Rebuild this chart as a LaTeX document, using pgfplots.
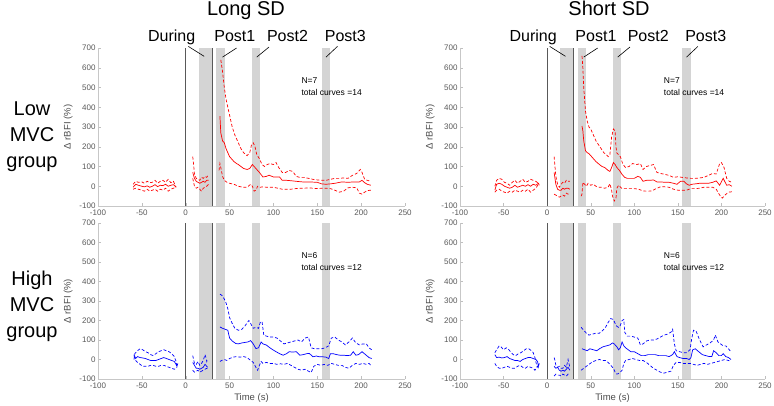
\documentclass[border=0pt]{standalone}
\usepackage{fontspec}
\setmainfont{Liberation Sans}
\usepackage{pgfplots}
\pgfplotsset{compat=1.18}

\pgfplotsset{
  panel/.style={
    scale only axis, clip=false,
    xmin=-100, xmax=250, ymin=-100, ymax=700,
    xtick={-100,-50,...,250}, ytick={-100,0,...,700},
    axis x line*=bottom, axis y line*=left,
    axis line style={-, black!22},
    tick style={black!25}, tick align=inside, major tick length=3pt,
    /pgf/number format/assume math mode=true,
    ticklabel style={font=\fontsize{8}{9}\selectfont, text=black!65},
    xticklabel style={yshift=-0.5pt},
    yticklabel style={xshift=1pt},
    ylabel={Δ rBFI (\%)},
    label style={font=\fontsize{9.5}{10}\selectfont, text=black!70},
    ylabel style={yshift=0pt},
  },
  mean/.style={line width=0.7pt},
  band/.style={line width=0.7pt, dash pattern=on 3pt off 2pt},
}

% grey periods and the two vertical markers
\newcommand{\phases}{
  \addplot[fill=black!17, draw=none] coordinates {(15,-100) (30,-100) (30,700) (15,700)} -- cycle;
  \addplot[fill=black!17, draw=none] coordinates {(35,-100) (45,-100) (45,700) (35,700)} -- cycle;
  \addplot[fill=black!17, draw=none] coordinates {(75,-100) (85,-100) (85,700) (75,700)} -- cycle;
  \addplot[fill=black!17, draw=none] coordinates {(155,-100) (165,-100) (165,700) (155,700)} -- cycle;
  \addplot[black!65, line width=0.6pt] coordinates {(0,-100) (0,700)};
  \addplot[black!65, line width=0.6pt] coordinates {(30,-100) (30,700)};
}
\newcommand{\phaselabels}{
  \node[anchor=base, font=\fontsize{16}{16}\selectfont] at (axis cs:-16,732) {During};
  \node[anchor=base, font=\fontsize{16}{16}\selectfont] at (axis cs:56,732) {Post1};
  \node[anchor=base, font=\fontsize{16}{16}\selectfont] at (axis cs:116,732) {Post2};
  \node[anchor=base, font=\fontsize{16}{16}\selectfont] at (axis cs:182,732) {Post3};
  \draw[line width=0.6pt] (axis cs:3,708) -- (axis cs:21,658);
  \draw[line width=0.6pt] (axis cs:58,700) -- (axis cs:42,654);
  \draw[line width=0.6pt] (axis cs:95,705) -- (axis cs:81,654);
  \draw[line width=0.6pt] (axis cs:173,708) -- (axis cs:160,654);
}

\begin{document}
\begin{tikzpicture}
\path[use as bounding box] (0,0) rectangle (774pt,405pt);

% titles and row labels
\node[anchor=base, font=\fontsize{20}{20}\selectfont] at (246pt,389pt) {Long SD};
\node[anchor=base, font=\fontsize{20}{20}\selectfont] at (609pt,389pt) {Short SD};
\node[align=center, font=\fontsize{20}{26}\selectfont] at (32pt,268pt) {Low\\MVC\\group};
\node[align=center, font=\fontsize{20}{26}\selectfont] at (32pt,99pt) {High\\MVC\\group};

%------------------ Long SD, Low MVC
\begin{axis}[panel, at={(98pt,199pt)}, anchor=south west, width=307pt, height=158pt]
\phases
\phaselabels
\node[anchor=west, font=\fontsize{8.5}{9}\selectfont] at (axis cs:128,533) {N=7};
\node[anchor=west, font=\fontsize{8.5}{9}\selectfont] at (axis cs:128,474) {total curves =14};
% pre
\addplot[red, mean] coordinates {(-60,-5)(-57,10)(-54,5)(-50,0)(-47,-3)(-44,2)(-41,-5)(-38,0)(-35,8)(-32,-2)(-29,5)(-26,3)(-23,10)(-20,0)(-17,5)(-14,8)(-11,-5)};
\addplot[red, band] coordinates {(-60,10)(-57,25)(-54,20)(-50,22)(-47,15)(-44,25)(-41,18)(-38,20)(-35,30)(-32,15)(-29,25)(-26,30)(-23,20)(-20,35)(-17,18)(-14,25)(-11,-5)};
\addplot[red, band] coordinates {(-60,-15)(-57,-10)(-54,-15)(-50,-20)(-47,-25)(-44,-15)(-41,-25)(-38,-20)(-35,-15)(-32,-25)(-29,-15)(-26,-20)(-23,-10)(-20,-25)(-17,-15)(-14,-10)(-11,-5)};
% during
\addplot[red, mean] coordinates {(8,70)(10,40)(12,25)(14,20)(16,15)(18,20)(20,25)(22,20)(24,30)(26,30)};
\addplot[red, band] coordinates {(8,150)(9,110)(10,60)(12,40)(14,35)(16,30)(18,45)(20,40)(22,50)(24,45)(26,60)};
\addplot[red, band] coordinates {(8,40)(10,0)(12,-10)(14,-5)(16,-15)(18,-25)(20,-10)(22,-5)(24,0)(26,10)};
% post
\addplot[red, mean] coordinates {(39,355)(40,270)(42,230)(44,220)(46,190)(48,170)(50,150)(52,140)(55,125)(58,115)(60,110)(63,100)(66,90)(70,85)(73,90)(76,110)(78,100)(81,85)(84,70)(88,47)(92,50)(95,56)(100,47)(107,47)(110,30)(115,30)(120,28)(126,25)(133,22)(140,22)(150,20)(155,12)(160,10)(165,12)(170,15)(178,22)(185,20)(192,22)(198,22)(201,30)(204,18)(207,10)(211,5)};
\addplot[red, band] coordinates {(40,640)(42,580)(44,500)(46,440)(48,400)(50,360)(53,300)(56,260)(60,220)(63,190)(66,170)(70,155)(73,170)(75,210)(77,220)(79,200)(81,160)(84,140)(87,110)(90,100)(93,110)(96,115)(100,110)(103,120)(106,95)(110,70)(114,70)(118,80)(122,75)(126,50)(130,45)(135,45)(140,40)(145,35)(150,32)(155,30)(160,30)(165,35)(170,40)(175,40)(180,42)(185,40)(190,55)(195,65)(199,85)(201,70)(204,35)(207,30)(211,25)};
\addplot[red, band] coordinates {(38,80)(39,115)(40,95)(42,50)(44,30)(47,20)(50,15)(55,10)(60,0)(65,-5)(70,-5)(74,10)(76,0)(78,-25)(80,-20)(82,0)(85,-5)(88,-3)(92,-5)(96,-5)(100,-5)(105,-10)(110,-15)(115,-15)(120,-15)(125,-12)(130,-10)(135,-10)(140,-8)(145,-10)(150,-12)(155,-10)(160,-10)(165,-12)(170,-20)(175,-30)(180,-25)(185,-8)(190,-5)(195,-8)(198,-35)(201,-40)(204,-30)(207,-22)(211,-20)};
\end{axis}

%------------------ Short SD, Low MVC
\begin{axis}[panel, at={(460pt,199pt)}, anchor=south west, width=305pt, height=158pt]
\phases
\phaselabels
\node[anchor=west, font=\fontsize{8.5}{9}\selectfont] at (axis cs:130,533) {N=7};
\node[anchor=west, font=\fontsize{8.5}{9}\selectfont] at (axis cs:130,474) {total curves =14};
\addplot[red, mean] coordinates {(-60,-20)(-58,10)(-55,15)(-52,10)(-49,0)(-46,-5)(-43,-10)(-40,-5)(-37,5)(-34,-5)(-31,0)(-28,5)(-25,0)(-22,8)(-19,0)(-16,10)(-13,5)(-10,15)(-9,5)};
\addplot[red, band] coordinates {(-60,0)(-58,30)(-55,40)(-52,35)(-49,20)(-46,15)(-43,5)(-40,20)(-37,30)(-34,15)(-31,25)(-28,35)(-25,20)(-22,25)(-19,35)(-16,30)(-13,25)(-10,15)};
\addplot[red, band] coordinates {(-60,-30)(-58,-20)(-55,-15)(-52,-25)(-49,-30)(-46,-35)(-43,-25)(-40,-30)(-37,-20)(-34,-25)(-31,-30)(-28,-20)(-25,-25)(-22,-15)(-19,-30)(-16,-20)(-13,-10)(-10,10)};
\addplot[red, mean] coordinates {(8,70)(10,10)(12,-15)(14,-20)(16,-20)(18,-10)(20,-15)(22,-10)(24,-10)(26,-15)};
\addplot[red, band] coordinates {(8,150)(9,100)(10,50)(12,10)(14,-5)(16,10)(18,20)(20,15)(22,30)(24,25)(26,25)};
\addplot[red, band] coordinates {(8,-40)(10,-45)(12,-50)(14,-55)(16,-50)(18,-45)(20,-50)(22,-35)(24,-40)(26,-35)};
\addplot[red, mean] coordinates {(40,305)(41,280)(42,230)(44,180)(46,170)(48,165)(50,155)(53,140)(56,125)(60,110)(63,100)(66,95)(70,80)(72,75)(74,95)(76,120)(78,110)(80,95)(83,80)(86,60)(89,45)(92,40)(96,40)(100,40)(104,50)(107,45)(110,25)(114,30)(118,30)(122,32)(126,22)(130,22)(135,20)(140,20)(145,15)(149,10)(153,25)(157,25)(160,12)(163,5)(166,10)(170,12)(175,15)(180,15)(185,15)(190,20)(194,27)(198,5)(202,40)(206,5)(209,8)(212,0)};
\addplot[red, band] coordinates {(40,660)(41,600)(42,500)(44,380)(46,330)(48,300)(50,290)(53,260)(56,230)(59,210)(62,190)(65,170)(68,160)(70,150)(72,160)(74,250)(76,290)(78,280)(79,200)(80,168)(84,150)(87,110)(90,95)(94,100)(98,115)(103,110)(107,115)(110,85)(114,100)(118,105)(122,110)(126,70)(130,65)(135,60)(140,55)(145,45)(150,48)(155,45)(160,42)(165,40)(170,40)(175,42)(180,45)(185,55)(190,65)(194,62)(198,115)(200,120)(203,95)(206,40)(209,25)(212,20)};
\addplot[red, band] coordinates {(39,-50)(40,-40)(41,20)(43,10)(45,0)(47,15)(50,5)(53,10)(56,0)(60,-5)(63,-5)(66,-10)(70,-5)(72,13)(74,-20)(75,-50)(77,-75)(79,-60)(80,-10)(82,5)(86,-12)(90,-12)(95,-12)(100,-12)(105,-15)(110,-24)(115,-25)(120,-24)(125,-12)(130,-3)(135,-3)(140,-5)(145,-15)(150,-20)(155,-20)(160,-20)(165,-12)(170,-12)(175,-10)(180,-5)(185,-5)(190,-5)(194,-15)(198,-45)(201,-60)(204,-45)(208,-30)(212,-28)};
\end{axis}

%------------------ Long SD, High MVC
\begin{axis}[panel, at={(98pt,26pt)}, anchor=south west, width=307pt, height=156pt, xlabel={Time (s)}, xlabel style={yshift=2pt}]
\phases
\node[anchor=west, font=\fontsize{8.5}{9}\selectfont] at (axis cs:128,533) {N=6};
\node[anchor=west, font=\fontsize{8.5}{9}\selectfont] at (axis cs:128,474) {total curves =12};
\addplot[blue, mean] coordinates {(-59,25)(-57,5)(-55,15)(-52,10)(-49,8)(-46,5)(-43,0)(-40,-5)(-37,-5)(-34,-5)(-31,0)(-28,5)(-25,10)(-22,5)(-19,0)(-16,-5)(-13,-10)(-11,-25)(-10,-35)(-9,-20)};
\addplot[blue, band] coordinates {(-59,0)(-58,30)(-55,45)(-52,55)(-49,50)(-46,40)(-43,35)(-40,25)(-37,20)(-34,30)(-31,40)(-28,45)(-25,50)(-22,45)(-19,40)(-16,30)(-13,15)(-11,-10)(-10,-40)};
\addplot[blue, band] coordinates {(-59,20)(-57,-5)(-55,-15)(-52,-25)(-49,-35)(-46,-35)(-43,-35)(-40,-30)(-37,-30)(-34,-35)(-31,-35)(-28,-30)(-25,-30)(-22,-35)(-19,-40)(-16,-45)(-13,-50)(-11,-45)(-10,-40)};
\addplot[blue, mean] coordinates {(8,-15)(10,-30)(12,-45)(14,-45)(16,-50)(18,-45)(20,-40)(22,-25)(24,-35)(25,-40)};
\addplot[blue, band] coordinates {(8,20)(9,0)(10,-20)(12,-25)(14,-10)(16,-30)(18,-20)(20,-5)(22,25)(23,10)(24,-10)(25,5)};
\addplot[blue, band] coordinates {(8,-55)(10,-65)(12,-60)(14,-55)(16,-65)(18,-60)(20,-55)(22,-50)(24,-45)(25,-50)};
\addplot[blue, mean] coordinates {(39,167)(42,160)(45,155)(48,150)(50,110)(53,95)(57,82)(60,80)(64,85)(68,88)(71,90)(74,97)(77,80)(80,56)(83,60)(86,90)(88,80)(92,74)(96,60)(100,48)(103,40)(107,30)(111,22)(115,30)(118,40)(122,38)(126,40)(130,22)(134,25)(138,30)(141,31)(145,14)(149,18)(152,14)(156,14)(160,12)(163,5)(165,30)(168,30)(172,25)(176,22)(180,22)(184,20)(188,22)(191,40)(194,22)(197,25)(201,40)(205,25)(209,10)(212,5)};
\addplot[blue, band] coordinates {(39,335)(41,330)(44,310)(46,290)(48,260)(50,215)(53,185)(56,160)(60,150)(64,155)(68,175)(72,200)(74,185)(77,160)(80,165)(83,160)(85,190)(87,195)(89,125)(92,120)(96,115)(100,115)(104,110)(108,95)(112,80)(116,85)(120,90)(124,95)(128,100)(132,90)(136,110)(140,115)(143,60)(147,55)(151,55)(155,55)(159,60)(163,70)(166,110)(170,115)(174,100)(178,90)(182,75)(186,90)(190,110)(194,85)(198,75)(202,80)(206,80)(209,60)(212,50)};
\addplot[blue, band] coordinates {(39,-10)(41,-5)(44,0)(47,-5)(50,5)(54,12)(58,15)(62,12)(66,15)(70,10)(74,-5)(77,-15)(80,-40)(82,-55)(84,-30)(86,-10)(88,-20)(92,-15)(96,-20)(100,-20)(104,-25)(108,-22)(112,-25)(116,-20)(120,-30)(124,-40)(128,-50)(132,-55)(136,-50)(140,-60)(143,-67)(146,-35)(150,-25)(154,-30)(158,-25)(162,-30)(166,-20)(170,-25)(174,-30)(178,-30)(182,-40)(186,-45)(190,-30)(194,-20)(198,-25)(202,-20)(206,-25)(209,-20)(212,-35)};
\end{axis}

%------------------ Short SD, High MVC
\begin{axis}[panel, at={(460pt,26pt)}, anchor=south west, width=305pt, height=156pt, xlabel={Time (s)}, xlabel style={yshift=2pt}]
\phases
\node[anchor=west, font=\fontsize{8.5}{9}\selectfont] at (axis cs:130,533) {N=6};
\node[anchor=west, font=\fontsize{8.5}{9}\selectfont] at (axis cs:130,474) {total curves =12};
\addplot[blue, mean] coordinates {(-60,25)(-58,10)(-55,12)(-52,8)(-49,10)(-46,15)(-43,5)(-40,0)(-37,-5)(-34,-5)(-31,-10)(-28,0)(-25,5)(-22,10)(-19,10)(-16,5)(-13,0)(-11,-10)(-10,-35)(-9,-20)};
\addplot[blue, band] coordinates {(-60,35)(-58,50)(-55,70)(-53,65)(-50,50)(-47,60)(-45,55)(-42,40)(-39,25)(-36,20)(-33,30)(-30,35)(-27,45)(-24,55)(-21,55)(-18,45)(-16,35)(-14,10)(-12,-30)(-10,-45)};
\addplot[blue, band] coordinates {(-60,-20)(-58,-35)(-55,-45)(-52,-45)(-49,-40)(-46,-35)(-43,-40)(-40,-45)(-37,-45)(-34,-35)(-31,-30)(-28,-40)(-25,-45)(-22,-35)(-19,-40)(-16,-45)(-14,-55)(-12,-40)(-10,-30)};
\addplot[blue, mean] coordinates {(8,-35)(10,-45)(12,-40)(14,-55)(16,-60)(18,-55)(20,-60)(22,-50)(24,-40)(26,-55)};
\addplot[blue, band] coordinates {(8,10)(9,-5)(10,-30)(12,-40)(14,-35)(16,-45)(18,-45)(20,-30)(22,-40)(24,0)(26,-40)};
\addplot[blue, band] coordinates {(8,-85)(10,-75)(12,-80)(14,-80)(16,-85)(18,-75)(20,-80)(22,-85)(24,-75)(26,-80)};
\addplot[blue, mean] coordinates {(40,55)(43,50)(46,45)(49,55)(53,50)(57,45)(60,55)(64,65)(68,70)(72,75)(75,85)(77,80)(80,65)(82,50)(84,60)(86,90)(88,70)(90,60)(93,50)(96,40)(100,40)(104,30)(108,20)(112,20)(116,25)(120,25)(124,25)(128,20)(132,20)(136,20)(140,15)(144,25)(146,40)(149,15)(152,10)(156,5)(160,5)(163,0)(165,10)(167,50)(170,55)(174,40)(178,25)(182,20)(186,15)(189,15)(191,45)(194,35)(197,20)(200,20)(202,30)(205,15)(208,10)(211,0)};
\addplot[blue, band] coordinates {(39,165)(42,150)(45,135)(48,125)(52,130)(56,135)(60,135)(64,150)(67,165)(70,190)(73,210)(76,205)(78,185)(80,170)(82,165)(84,175)(86,200)(88,205)(89,140)(92,120)(96,120)(100,115)(104,110)(107,75)(110,80)(114,95)(118,100)(122,100)(126,105)(130,115)(134,125)(138,130)(142,140)(144,155)(146,80)(148,45)(152,40)(156,35)(160,35)(164,50)(166,110)(168,150)(171,145)(175,100)(179,65)(183,75)(187,85)(191,100)(193,125)(196,90)(199,80)(202,70)(205,70)(208,55)(211,40)};
\addplot[blue, band] coordinates {(39,-55)(42,-45)(45,-35)(48,-25)(52,-12)(56,-5)(60,0)(64,-5)(67,-5)(70,-15)(73,-30)(76,-45)(78,-65)(80,-75)(82,-72)(84,-65)(86,-55)(88,-20)(90,-5)(94,0)(98,5)(102,0)(106,-5)(110,-5)(114,-15)(118,-30)(122,-45)(126,-55)(130,-65)(134,-70)(138,-65)(142,-60)(145,-30)(148,-15)(152,-15)(156,-20)(160,-20)(164,-20)(168,-25)(172,-30)(176,-25)(180,-20)(184,-25)(188,-20)(192,-15)(196,-10)(200,-5)(204,0)(208,-5)(211,-10)};
\end{axis}
\end{tikzpicture}
\end{document}
